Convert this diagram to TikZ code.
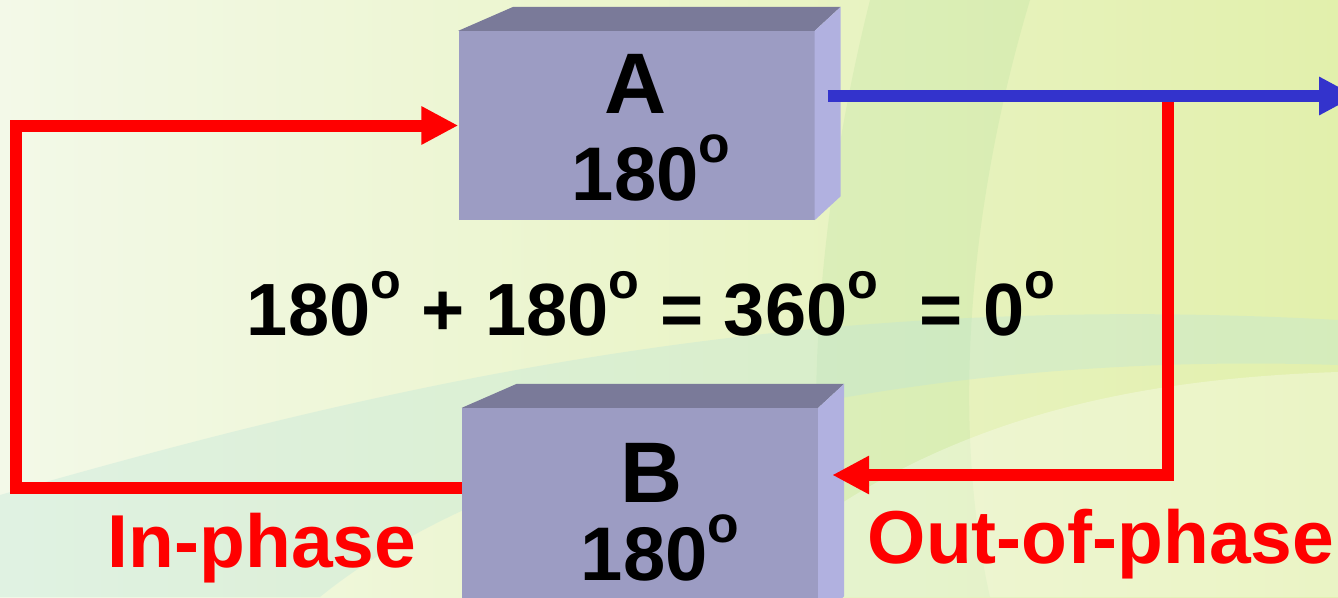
\documentclass[tikz,border=0pt]{standalone}
\usepackage{fontspec}
\setmainfont{Liberation Sans}
\usetikzlibrary{arrows.meta,positioning,calc}

\definecolor{boxfront}{HTML}{9C9CC3}
\definecolor{boxtop}{HTML}{7A7A99}
\definecolor{boxside}{HTML}{B1B1E0}
\definecolor{linkblue}{HTML}{3333CC}
\definecolor{bgleft}{HTML}{F3F9E8}
\definecolor{bgright}{HTML}{E2F0AC}
\definecolor{bgband}{HTML}{BDE3A2}
\definecolor{bgswoosh}{HTML}{BDE5D9}

\newcommand{\dg}{\raisebox{0.5em}{\scalebox{0.68}{o}}}

\begin{document}
\begin{tikzpicture}[x=1pt, y=-1pt,
      front/.style={fill=boxfront, inner sep=0pt, minimum width=356pt},
      big/.style={font=\fontsize{86}{90}\selectfont\bfseries, inner sep=0pt, anchor=base},
      deg/.style={font=\fontsize{76}{80}\selectfont\bfseries, inner sep=0pt, anchor=base},
      tag/.style={font=\fontsize{75}{80}\selectfont\bfseries, text=red, inner sep=0pt, anchor=base},
      feed/.style={draw=red, line width=12pt},
      link/.style={draw=linkblue, line width=12pt},
      headed/.style={-{Triangle[length=37pt, width=36pt]}}]
    \useasboundingbox (0,0) rectangle (1338,597);
    \clip (0,0) rectangle (1338,597);
    % background
    \shade[left color=bgleft, right color=bgright] (0,0) rectangle (1338,597);
    \fill[bgband, opacity=.3] (870,0) .. controls (820,200) and (800,420) .. (830,597)
      -- (990,597) .. controls (950,420) and (970,200) .. (1030,0) -- cycle;
    \fill[bgswoosh, opacity=.35] (0,597) -- (0,495) .. controls (400,380) and (800,290) .. (1338,320)
      -- (1338,365) .. controls (900,350) and (500,450) .. (320,597) -- cycle;
    \fill[white, opacity=.3] (720,597) .. controls (900,430) and (1100,380) .. (1338,372) -- (1338,597) -- cycle;

    % boxes
    \node[front, minimum height=189pt] (A) at (636.5,125.5) {};
    \node[front, minimum height=212pt] (B) at (640,514) {};
    \foreach \n in {A,B} {
      \fill[boxtop] (\n.north west) -- ++(55,-24) -- ($(\n.north east)+(26,-24)$) -- (\n.north east) -- cycle;
      \fill[boxside] (\n.north east) -- ++(26,-24) -- ($(\n.south east)+(26,-24)$) -- (\n.south east) -- cycle;
    }
    \node[big] (Aname) at (636,113) {A};
    \node[deg] (Aangle) at (651,200) {180\dg};
    \node[big] (Bname) at (652,502) {B};
    \node[deg] (Bangle) at (660,580) {180\dg};

    % loops
    \coordinate (west) at (16,300);
    \coordinate (tap) at (1168,96);
    \coordinate (out) at (1356,96);
    \draw[feed, headed] ([yshift=26pt]B.west) -| (west) |- (A.west);
    \draw[feed, headed] (tap) |- ([xshift=14pt, yshift=39pt]B.east);
    \draw[link, headed] ([xshift=13pt, yshift=29.5pt]A.east) -- (out);

    \node[deg, font=\fontsize{74}{78}\selectfont\bfseries] (sum) at (651,335) {180\dg{} + 180\dg{} = 360\dg{}\ \ = 0\dg};
    \node[tag] (inph) at (262,567) {In-phase};
    \node[tag] (outph) at (1101,563) {Out-of-phase};
  \end{tikzpicture}
\end{document}
